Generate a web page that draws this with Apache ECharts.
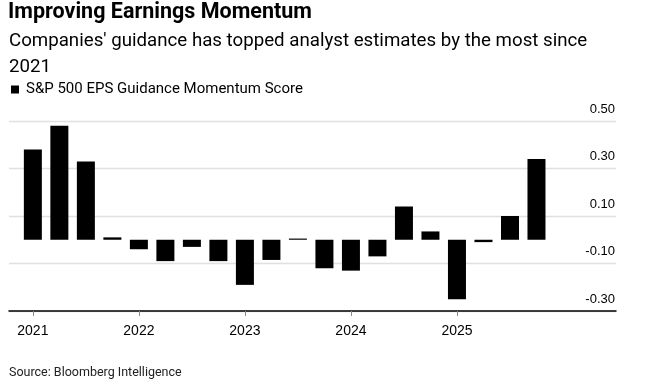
<!DOCTYPE html>
<html>
<head>
<meta charset="utf-8">
<script src="https://cdn.jsdelivr.net/npm/echarts@6/dist/echarts.min.js"></script>
<style>
html,body{margin:0;padding:0;background:#fff;}
#chart{width:653px;height:388px;}
</style>
</head>
<body>
<div id="chart"></div>
<script>
// Quarterly categories (2021 Q1 .. 2025 Q4)
const quarters = [
  "2021 Q1","2021 Q2","2021 Q3","2021 Q4",
  "2022 Q1","2022 Q2","2022 Q3","2022 Q4",
  "2023 Q1","2023 Q2","2023 Q3","2023 Q4",
  "2024 Q1","2024 Q2","2024 Q3","2024 Q4",
  "2025 Q1","2025 Q2","2025 Q3","2025 Q4"
];
// S&P 500 EPS Guidance Momentum Score
const scores = [
  0.38, 0.48, 0.33, 0.01,
  -0.04, -0.09, -0.03, -0.09,
  -0.19, -0.085, 0.005, -0.12,
  -0.13, -0.07, 0.14, 0.035,
  -0.25, -0.01, 0.10, 0.34
];
// Year tick labels (placed at the first quarter of each year)
const yearLabels = ["2021","2022","2023","2024","2025"];
const yearTickIndex = yearLabels.map(y => quarters.indexOf(y + " Q1"));

const FONT = 'Roboto, "Liberation Sans", Arial, sans-serif';
const AXFONT = '"Liberation Sans", Arial, sans-serif';

const chart = echarts.init(document.getElementById('chart'), null, {renderer: 'canvas'});
chart.setOption({
  animation: false,
  backgroundColor: '#fff',
  textStyle: {fontFamily: FONT},
  title: [
    {
      text: 'Improving Earnings Momentum',
      left: 8, top: 2, padding: 0,
      textStyle: {fontSize: 21.5, fontWeight: 'bold', color: '#000', fontFamily: FONT}
    },
    {
      text: "Companies' guidance has topped analyst estimates by the most since\n2021",
      left: 9, top: 28, padding: 0,
      textStyle: {fontSize: 18.7, fontWeight: 'normal', color: '#000', lineHeight: 26, fontFamily: FONT}
    }
  ],
  legend: {
    left: 11, top: 82, padding: 0,
    icon: 'rect',
    itemWidth: 8, itemHeight: 8, itemGap: 10,
    textStyle: {fontSize: 15, color: '#000', fontFamily: FONT, padding: [0,0,0,2]},
    data: ['S&P 500 EPS Guidance Momentum Score']
  },
  grid: {left: 9, right: 37, top: 121, bottom: 77, containLabel: false},
  xAxis: {
    type: 'value',
    min: -0.9, max: 22,
    axisLine: {show: true, onZero: false, lineStyle: {color: '#000', width: 1.5}},
    axisTick: {show: true, customValues: yearTickIndex, length: 5, lineStyle: {color: '#8a8a8a', width: 1}},
    axisLabel: {
      show: true, customValues: yearTickIndex, margin: 13,
      fontSize: 14, color: '#000', fontFamily: AXFONT,
      formatter: v => yearLabels[yearTickIndex.indexOf(Math.round(v))] || ''
    },
    splitLine: {show: false}
  },
  yAxis: {
    type: 'value',
    position: 'right',
    min: -0.3, max: 0.5, interval: 0.2,
    axisLine: {show: false},
    axisTick: {show: false},
    axisLabel: {
      inside: true, margin: 1,
      verticalAlign: 'bottom', lineHeight: 14, padding: [0,0,5,0],
      fontSize: 13, color: '#000', fontFamily: AXFONT,
      formatter: v => v.toFixed(2)
    },
    splitLine: {show: true, lineStyle: {color: '#e0e0e0', width: 1.3}}
  },
  series: [{
    name: 'S&P 500 EPS Guidance Momentum Score',
    type: 'bar',
    barWidth: 18,
    itemStyle: {color: '#000'},
    data: scores.map((v, i) => [i, v])
  }],
  graphic: [{
    type: 'text',
    left: 9, top: 366,
    style: {text: 'Source: Bloomberg Intelligence', fontSize: 12.5, fill: '#222', fontFamily: FONT}
  }]
});
</script>
</body>
</html>
